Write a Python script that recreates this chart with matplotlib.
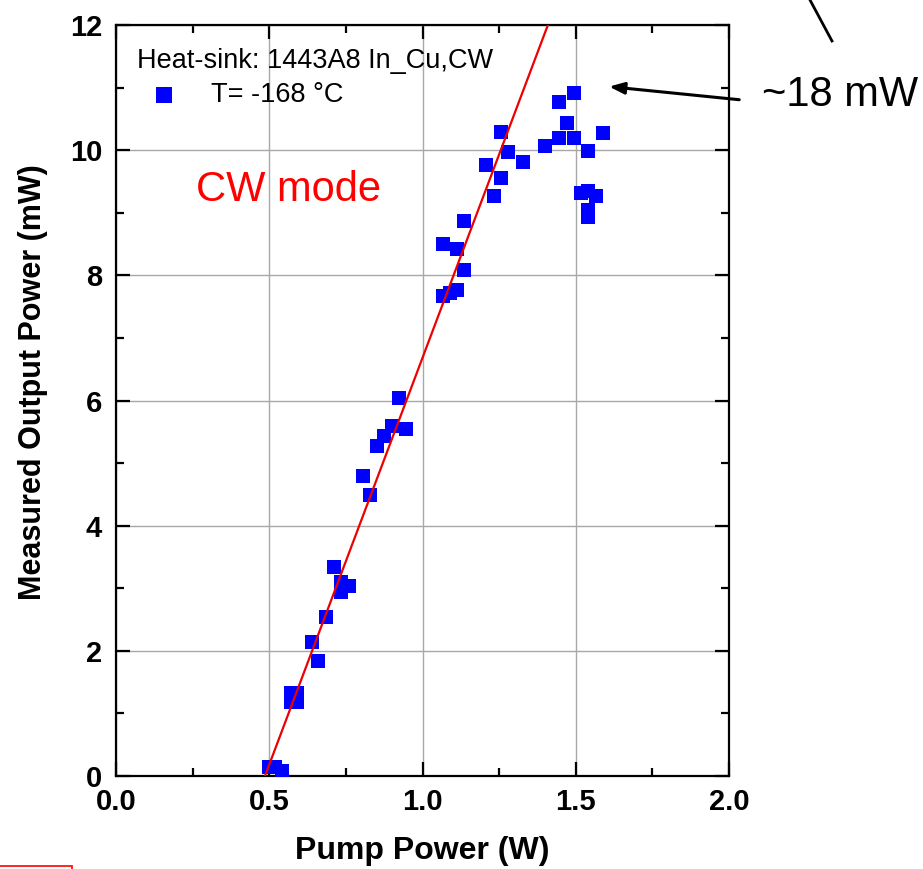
import matplotlib
matplotlib.use('Agg')
import matplotlib.pyplot as plt
from matplotlib.lines import Line2D
from matplotlib.patches import Rectangle
import numpy as np

plt.rcParams['font.family'] = ['Liberation Sans', 'DejaVu Sans']

# Measured points (pump power W, output power mW)
pump_w = [0.50, 0.52, 0.54, 0.57, 0.59, 0.57, 0.59, 0.64, 0.66, 0.685,
          0.71, 0.735, 0.76, 0.735, 0.805, 0.83, 0.85, 0.875, 0.90, 0.946,
          0.923, 1.066, 1.09, 1.113, 1.136, 1.066, 1.113, 1.136, 1.233, 1.256,
          1.207, 1.328, 1.28, 1.256, 1.40, 1.445, 1.494, 1.47, 1.445, 1.494,
          1.54, 1.59, 1.517, 1.54, 1.566, 1.54, 1.54]
output_mw = [0.14, 0.14, 0.08, 1.32, 1.32, 1.19, 1.19, 2.14, 1.84, 2.54,
             3.34, 3.10, 3.03, 2.94, 4.79, 4.49, 5.27, 5.43, 5.59, 5.54,
             6.04, 7.67, 7.71, 7.76, 8.08, 8.50, 8.42, 8.87, 9.27, 9.55,
             9.76, 9.81, 9.97, 10.29, 10.07, 10.77, 10.91, 10.43, 10.19, 10.19,
             9.98, 10.27, 9.31, 9.34, 9.27, 9.05, 8.93]

# Linear fit: threshold and slope efficiency
fit_threshold_w = 0.486
fit_slope_mw_per_w = 13.0

legend_title = 'Heat-sink: 1443A8 In_Cu,CW'
series_label = 'T= -168 °C'

fig = plt.figure(figsize=(9.23, 8.69), dpi=100)
ax = fig.add_axes([116/923, 93/869, 613/923, 751/869])

ax.scatter(pump_w, output_mw, marker='s', s=110, color='#0000ff',
           linewidths=0, label=series_label, zorder=3)

fx = np.array([fit_threshold_w, fit_threshold_w + 12.5 / fit_slope_mw_per_w])
ax.plot(fx, fit_slope_mw_per_w * (fx - fit_threshold_w), color='#ee0000',
        lw=1.6, zorder=4)

ax.set_xlim(0, 2.0)
ax.set_ylim(0, 12)
ax.set_xticks([0.0, 0.5, 1.0, 1.5, 2.0])
ax.set_xticks(np.arange(0, 2.01, 0.25), minor=True)
ax.set_yticks(range(0, 13, 2))
ax.set_yticks(range(0, 13, 1), minor=True)
ax.xaxis.set_major_formatter(matplotlib.ticker.FormatStrFormatter('%.1f'))
ax.grid(True, which='major', color='#a8a8a8', lw=1.0, zorder=0)

for sp in ax.spines.values():
    sp.set_linewidth(1.6)
ax.tick_params(which='both', direction='in', top=True, right=True, width=1.6)
ax.tick_params(which='major', length=10)
ax.tick_params(which='minor', length=6)
ax.tick_params(axis='x', which='major', pad=9, labelsize=21)
ax.tick_params(axis='y', which='major', pad=10, labelsize=21)
for lab in ax.get_xticklabels() + ax.get_yticklabels():
    lab.set_fontweight('bold')

ax.set_xlabel('Pump Power (W)', fontsize=23, fontweight='bold', labelpad=14)
ax.set_ylabel('Measured Output Power (mW)', fontsize=22, fontweight='bold', labelpad=16)
ax.yaxis.label.set_y(0.525)

leg = ax.legend(title=legend_title, loc='upper left', frameon=False,
                bbox_to_anchor=(137/923, 1 - 48/869), bbox_transform=fig.transFigure,
                fontsize=19.5, title_fontsize=19.5, alignment='left',
                handlelength=2.0, handletextpad=0.75, borderpad=0, borderaxespad=0,
                labelspacing=0.3, markerscale=1.05)

ax.text(0.261, 9.19, 'CW mode', color='#ff0000', fontsize=30)

# arrow to the maximum point and its note
ax.annotate('', xy=(1.60, 11.02), xytext=(742/923, 1 - 100/869),
            textcoords='figure fraction',
            arrowprops=dict(arrowstyle='-|>,head_length=0.9,head_width=0.35',
                            color='black', lw=2.2), annotation_clip=False)
fig.text(762/923, 1 - 95/869, '~18 mW', fontsize=30, va='center', ha='left')

# fragments from the surrounding slide
fig.add_artist(Line2D([810/923, 832/923], [1.0, 1 - 41/869], color='black', lw=2))
fig.add_artist(Rectangle((-0.01, -0.05), 72/923 + 0.01, 0.05 + 3/869,
                         transform=fig.transFigure,
                         fill=False, edgecolor='#ff0000', lw=1.2))

fig.savefig('out.png', dpi=100)
